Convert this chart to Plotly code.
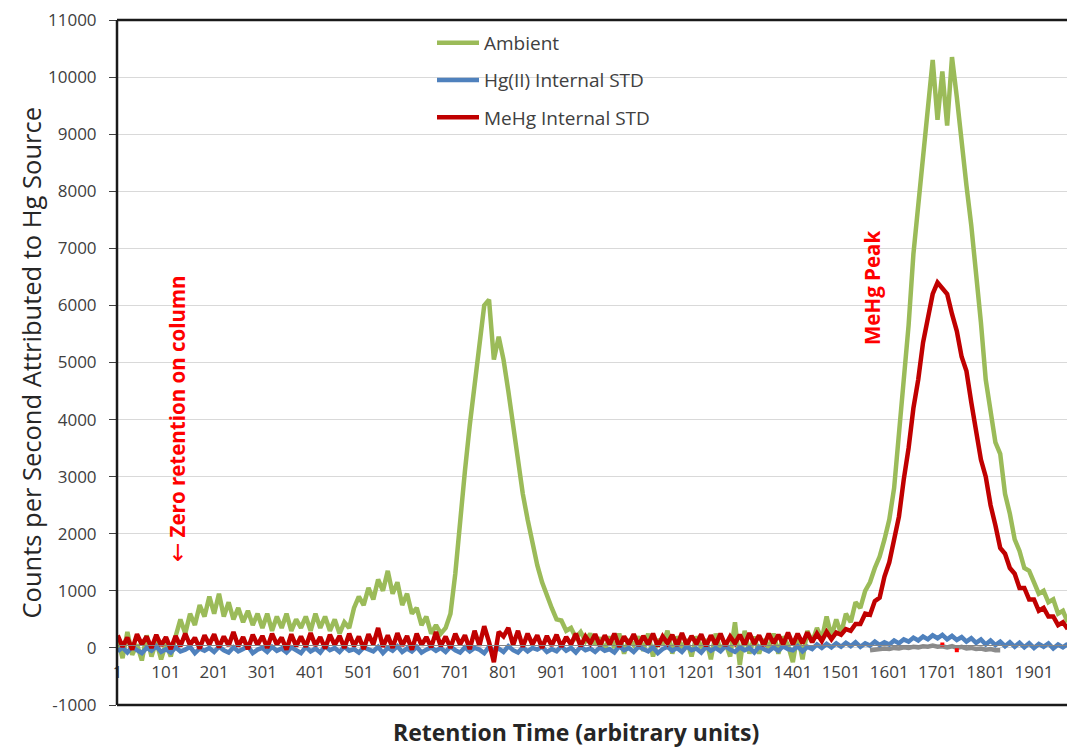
import plotly.graph_objects as go

# ---------------- data ----------------
retention_time = list(range(1, 1972, 10))

ambient = [
    150, -180, 280, -120, 60, -220, 220, -150, 120, -200,
    80, -150, 200, 500, 250, 600, 400, 750, 550, 900,
    600, 950, 550, 800, 500, 700, 450, 650, 400, 600,
    350, 600, 300, 550, 350, 600, 300, 500, 350, 550,
    300, 600, 350, 550, 300, 500, 250, 450, 350, 700,
    900, 750, 1050, 850, 1200, 1000, 1350, 950, 1150, 750,
    950, 600, 700, 400, 550, 250, 400, 250, 350, 600,
    1300, 2250, 3100, 3900, 4600, 5350, 6000, 6100, 5050, 5450,
    5050, 4500, 3850, 3250, 2700, 2250, 1850, 1450, 1150, 900,
    700, 500, 480, 300, 350, 180, 280, 120, 250, 50,
    180, -50, 200, 0, 250, -100, 150, 50, 200, -50,
    250, -150, 150, 50, 300, -100, 200, 0, 150, -150,
    200, 0, 150, -200, 250, -50, 100, -150, 450, -300,
    300, -100, 200, -100, 150, 0, 250, -100, 200, 50,
    -250, 250, -200, 300, 100, 350, 150, 550, 200, 500,
    250, 600, 450, 800, 700, 1000, 1150, 1400, 1600, 1900,
    2250, 2800, 3700, 4700, 5650, 6900, 7750, 8600, 9450, 10300,
    9250, 10100, 9150, 10350, 9650, 8800, 8100, 7400, 6600, 5700,
    4700, 4100, 3600, 3400, 2700, 2350, 1900, 1700, 1400, 1350,
    1150, 950, 1000, 800, 850, 600, 650, 450,
]

hg2_internal_std = [
    -60, 10, -80, 20, -40, -90, 0, -50, 30, -70,
    -20, -80, 10, -60, -30, 20, -90, -10, -50, 0,
    -70, 20, -40, -80, 10, -60, -20, 30, -90, -30,
    0, -70, 20, -50, -10, -80, 10, -40, -90, 20,
    -60, -10, -80, 30, -40, 0, -70, 20, -50, -20,
    -80, 10, -30, -60, 20, -90, 0, -50, 30, -70,
    -10, -60, 20, -80, -30, 10, -50, 0, -70, 20,
    -40, -80, 10, -60, 0, -30, -90, 20, -50, -10,
    -70, 30, -40, -80, 10, -60, 0, -30, 20, -70,
    -20, -60, 30, -50, 0, -80, 20, -40, -10, -70,
    10, -50, -20, -80, 30, -40, 0, -70, 20, -30,
    -60, 10, -90, -20, 20, -50, 0, -70, 30, -40,
    -10, -80, 20, -50, 0, -60, 30, -30, -70, 10,
    -40, 0, -80, 20, -30, -60, 10, -50, 30, -20,
    -40, 30, -60, 20, -20, 60, 0, 70, 10, 80,
    20, 90, 30, 100, 20, 80, 40, 110, 50, 100,
    60, 130, 80, 150, 110, 180, 130, 200, 150, 220,
    170, 230, 150, 210, 140, 190, 110, 170, 90, 150,
    60, 130, 50, 110, 30, 100, 20, 90, 10, 80,
    0, 70, 20, 80, -10, 60, 10, 70,
]

mehg_internal_std = [
    220, 20, 180, -30, 240, 60, 200, 0, 230, 40,
    190, -20, 210, 30, 250, 50, 180, -10, 220, 60,
    240, 10, 200, 40, 280, 30, 190, -20, 230, 50,
    210, 0, 250, 60, 180, -30, 240, 30, 200, 20,
    260, 40, 190, -10, 230, 50, 210, 0, 250, 30,
    200, -20, 240, 60, 350, 20, 220, 0, 260, 40,
    210, -30, 250, 50, 190, 10, 280, 30, 200, 0,
    250, 60, 220, -20, 300, 40, 380, 100, -250, 280,
    200, 350, 50, 300, 20, 250, 60, 220, 0, 210,
    40, 230, 20, 190, 60, 250, 30, 200, 80, 240,
    40, 220, 60, 250, 20, 200, 70, 240, 40, 210,
    60, 250, 30, 200, 80, 230, 40, 260, 50, 210,
    70, 240, 30, 220, 60, 250, 40, 200, 80, 230,
    50, 260, 70, 220, 40, 250, 80, 230, 60, 270,
    60, 250, 80, 270, 100, 250, 120, 280, 150, 270,
    230, 330, 300, 420, 420, 600, 580, 820, 880, 1250,
    1500, 1950, 2300, 2950, 3500, 4200, 4700, 5350, 5800, 6200,
    6400, 6300, 6200, 5850, 5550, 5100, 4850, 4300, 3850, 3300,
    3000, 2500, 2150, 1750, 1650, 1400, 1300, 1050, 1050, 850,
    850, 650, 700, 550, 550, 400, 450, 330,
]

series4_time = list(range(1561, 1832, 10))
series4 = [-40, -30, -20, -10, -20, 0, -10, 10, 0, 20, 10, 30, 20, 40,
           20, 30, 10, 30, 0, 20, -10, 0, -20, -10, -30, -20, -40, -40]

marker_time = [1711, 1741]
marker_vals = [60, -40]

x_tick_vals = [1, 101, 201, 301, 401, 501, 601, 701, 801, 901, 1001,
               1101, 1201, 1301, 1401, 1501, 1601, 1701, 1801, 1901]
x_tick_text = [str(v) for v in x_tick_vals]

y_tick_vals = [-1000, 0, 1000, 2000, 3000, 4000, 5000, 6000, 7000, 8000,
               9000, 10000, 11000]
y_tick_text = [str(v) for v in y_tick_vals]

# ---------------- figure ----------------
FONT = "Open Sans"
LW = 4.5
fig = go.Figure()

fig.add_trace(go.Scatter(x=series4_time, y=series4, mode="lines",
                         line=dict(color="#8C8C8C", width=LW),
                         showlegend=False, hoverinfo="skip"))
fig.add_trace(go.Scatter(x=retention_time, y=ambient, mode="lines", name="Ambient",
                         legendgroup="a", line=dict(color="#9BBB59", width=LW)))
fig.add_trace(go.Scatter(x=retention_time, y=hg2_internal_std, mode="lines",
                         name="Hg(II) Internal STD", legendgroup="b",
                         line=dict(color="#4F81BD", width=LW)))
fig.add_trace(go.Scatter(x=retention_time, y=mehg_internal_std, mode="lines",
                         name="MeHg Internal STD", legendgroup="c",
                         line=dict(color="#C00000", width=LW)))
fig.add_trace(go.Scatter(x=marker_time, y=marker_vals, mode="markers",
                         marker=dict(color="#FF0000", size=4, symbol="square"),
                         showlegend=False, hoverinfo="skip"))

zero_pos = (705 - 645.2) / 685.0

fig.update_layout(
    width=1067, height=749,
    margin=dict(l=117, r=0, t=20, b=44),
    plot_bgcolor="white", paper_bgcolor="white",
    font=dict(family=FONT, size=17, color="#404040"),
    xaxis=dict(range=[-0.5, 1969.5], tickvals=x_tick_vals, ticktext=x_tick_text,
               anchor="free", position=zero_pos, showline=True,
               linecolor="#868686", linewidth=1, showgrid=False, zeroline=False,
               ticks="", tickfont=dict(family=FONT, size=17, color="#404040"),
               ticklabelstandoff=11),
    yaxis=dict(range=[-1000, 11000], tickvals=y_tick_vals, ticktext=y_tick_text,
               showgrid=True, gridcolor="#D9D9D9", gridwidth=1.3, zeroline=False,
               ticks="outside", ticklen=7, tickcolor="#404040", tickwidth=1,
               showline=False, ticklabelstandoff=9,
               tickfont=dict(family=FONT, size=17, color="#404040")),
    legend=dict(x=(432 - 117) / 950.0, y=(705 - 24) / 685.0, xanchor="left", yanchor="top",
                bgcolor="rgba(0,0,0,0)", traceorder="grouped", tracegroupgap=9.5,
                itemwidth=42,
                font=dict(family=FONT, size=19, color="#404040")),
    shapes=[
        dict(type="line", xref="paper", yref="paper", x0=0, x1=0, y0=0, y1=1,
             line=dict(color="#1A1A1A", width=2.5)),
        dict(type="line", xref="paper", yref="paper", x0=0, x1=1, y0=1, y1=1,
             line=dict(color="#1A1A1A", width=2.5)),
        dict(type="line", xref="paper", yref="paper", x0=0, x1=1, y0=0, y1=0,
             line=dict(color="#1A1A1A", width=2.5)),
    ],
    annotations=[
        dict(text="Counts per Second Attributed to Hg Source", xref="paper", yref="paper",
             x=(30 - 117) / 950.0, y=0.5, textangle=-90, showarrow=False,
             xanchor="center", yanchor="middle",
             font=dict(family=FONT, size=25.5, color="#262626")),
        dict(text="<b>Retention Time (arbitrary units)</b>", xref="paper", yref="paper",
             x=(576 - 117) / 950.0, y=(705 - 732) / 685.0, showarrow=False,
             xanchor="center", yanchor="middle",
             font=dict(family=FONT, size=23, color="#262626")),
        dict(text="<span style=\"font-family:'DejaVu Sans';font-size:23px\">\u2190</span>"
                  " <b>Zero retention on column</b>",
             xref="paper", yref="paper",
             x=(177 - 117) / 950.0, y=(705 - 419) / 685.0, textangle=-90, showarrow=False,
             xanchor="center", yanchor="middle",
             font=dict(family=FONT, size=20.5, color="#FF0000")),
        dict(text="<b>MeHg Peak</b>", xref="paper", yref="paper",
             x=(872 - 117) / 950.0, y=(705 - 288) / 685.0, textangle=-90, showarrow=False,
             xanchor="center", yanchor="middle",
             font=dict(family=FONT, size=20.5, color="#FF0000")),
    ],
)

fig.write_html("out.html")
